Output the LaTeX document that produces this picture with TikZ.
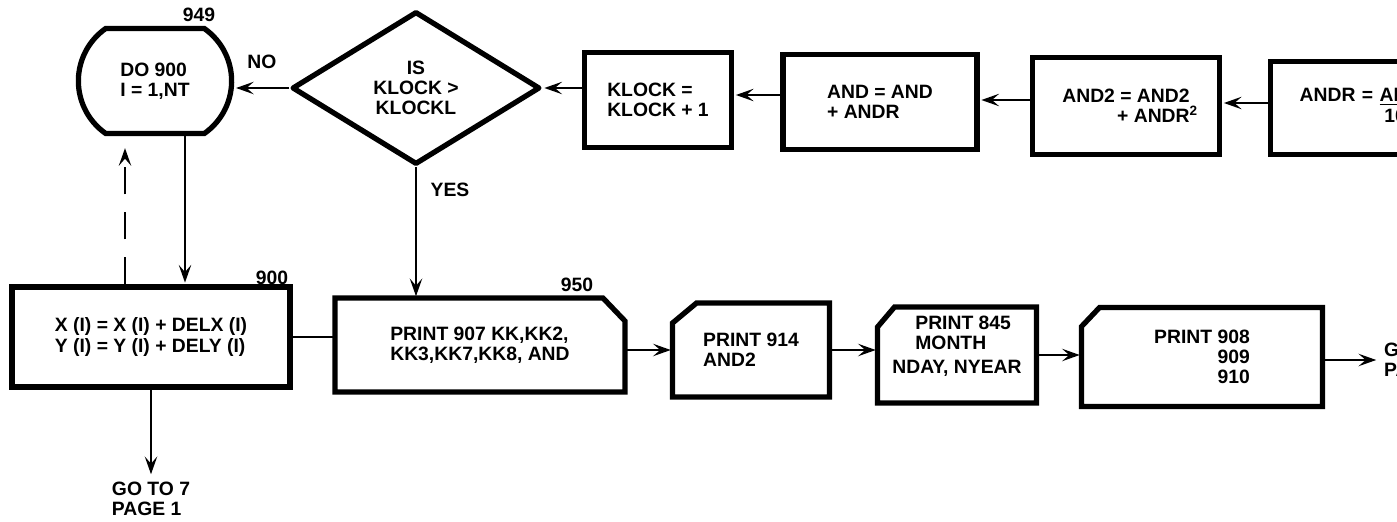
\documentclass[tikz,border=0pt]{standalone}
\usepackage{fontspec}
\setmainfont{Liberation Sans}
\usepackage{tikz}
\usetikzlibrary{arrows.meta,shapes.geometric,shapes.misc}

\tikzset{
  box/.style={draw, line width=3pt, align=left},
  term/.style={box, rounded rectangle, rounded rectangle arc length=110, minimum width=3.3cm, minimum height=2.1cm},
  decision/.style={draw, line width=3pt, line join=round, diamond, aspect=1.6, inner sep=0pt, minimum width=4.96cm, minimum height=3.06cm, align=center},
  printbox/.style={rectangle, outer sep=0pt, align=left},
  outline/.style={line width=3pt},
  conn/.style={line width=1.5pt, shorten >=1pt}
}

\begin{document}
\begin{tikzpicture}[x=0.02cm, y=-0.02cm, >={Stealth[length=10pt,width=7pt,inset=4pt]}, font=\bfseries\fontsize{11}{11.4}\selectfont]
    \useasboundingbox (0,0) rectangle (1397,521);
    \clip (0,0) rectangle (1397,521);
    % top row
    \node[term] (do900) at (155,81) {DO 900\\I = 1,NT};
    \node[decision] (decide) at (416,88) {IS\\KLOCK >\\KLOCKL};
    \node[box, minimum width=2.94cm, minimum height=1.9cm] (klock) at (658,100) {KLOCK =\\KLOCK + 1};
    \node[box, minimum width=3.88cm, minimum height=1.9cm] (andsum) at (880,102) {AND = AND\\+ ANDR};
    \node[box, align=right, minimum width=3.74cm, minimum height=1.94cm] (andsq) at (1126,106) {AND2 = AND2\\+ ANDR\rlap{\textsuperscript{2}}};
    \node[box, anchor=west, text width=4cm, inner xsep=0.58cm, minimum height=1.86cm] (andr) at (1268,108) {ANDR = \begin{tabular}[t]{@{}c@{}}\underline{AND}\\100\end{tabular}};
    \node (n949) at (199,15) {949};
    % bottom row
    \node[box, minimum width=5.56cm, minimum height=2cm] (xupd) at (151,337) {X (I) = X (I) + DELX (I)\\Y (I) = Y (I) + DELY (I)};
    \node (n900) at (272,278) {900};
    \node[printbox, minimum width=5.8cm, minimum height=1.88cm] (p907) at (480,345) {PRINT 907 KK,KK2,\\KK3,KK7,KK8, AND};
    \node (n950) at (577,285) {950};
    \node[printbox, minimum width=3.14cm, minimum height=1.88cm] (p914) at (751,350) {PRINT 914\\AND2};
    \node[printbox, minimum width=3.18cm, minimum height=1.92cm] (p845) at (957,355) {\hspace*{0.46cm}PRINT 845\\\hspace*{0.46cm}MONTH\\[2pt]NDAY, NYEAR\\\mbox{}};
    \node[printbox, align=right, minimum width=4.82cm, minimum height=1.98cm] (p908) at (1202,357) {PRINT 908\\909\\910};
    \node[anchor=north, align=left] (goto1) at (151,476) {GO TO 7\\PAGE 1};
    \node[anchor=west, align=left] (goto2) at (1378,360) {GO TO\\PAGE};
    % print outlines with cut corner
    \draw[outline] (p907.north west) -- ([xshift=-0.44cm]p907.north east) -- ([yshift=-0.46cm]p907.north east) -- (p907.south east) -- (p907.south west) -- cycle;
    \foreach \n/\dx/\dy in {p914/0.48cm/0.4cm, p845/0.34cm/0.4cm, p908/0.36cm/0.38cm}
        \draw[outline] ([yshift=-\dy]\n.north west) -- ([xshift=\dx]\n.north west) -- (\n.north east) -- (\n.south east) -- (\n.south west) -- cycle;
    % connectors
    \path[->, conn]
    (decide.west) edge node[above=0.25cm] {NO} (decide.west -| do900.east)
    (klock.west |- decide.east) edge (decide.east)
    ([yshift=0.14cm]andsum.west) edge ([yshift=0.14cm]andsum.west -| klock.east)
    ([yshift=0.12cm]andsq.west) edge ([yshift=0.12cm]andsq.west -| andsum.east)
    ([yshift=0.1cm]andr.west) edge ([yshift=0.1cm]andr.west -| andsq.east)
    (decide.south) edge node[pos=0.17, right=0.15cm] {YES} (decide.south |- p907.north)
    ([xshift=0.6cm]do900.south) edge ([xshift=0.6cm]do900.south |- xupd.north)
    (xupd.south) edge (goto1)
    (p907.east |- p914.west) edge (p914.west)
    (p914.east) edge (p914.east -| p845.west)
    (p845.east) edge (p845.east -| p908.west)
    (p908.east |- goto2.west) edge (goto2.west);
    \draw[conn] (xupd.east) -- (xupd.east -| p907.west);
    \draw[->, conn, shorten >=0.24cm, dash pattern=on 0.55cm off 0.35cm] ([xshift=-0.6cm]do900.south |- xupd.north) -- ([xshift=-0.6cm]do900.south);
\end{tikzpicture}
\end{document}
